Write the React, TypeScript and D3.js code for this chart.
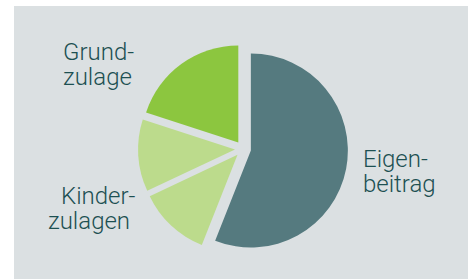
import { useEffect, useRef } from "react";
import * as d3 from "d3";

// slices, clockwise from 12 o'clock
const slices = ["Eigenbeitrag", "Kinderzulage 1", "Kinderzulage 2", "Grundzulage"];
const shares = [56, 12, 12, 20];
const sliceColors = ["#557a7f", "#bcdb8c", "#bcdb8c", "#8cc63f"];

// labels (lines)
const labelLines = [
  ["Grund-", "zulage"],
  ["Kinder-", "zulagen"],
  ["Eigen-", "beitrag"],
];

const App = () => {
  const svgRef = useRef<SVGSVGElement>(null);

  useEffect(() => {
    const width = 475;
    const height = 279;
    const cx = 243;
    const cy = 149;
    const radius = 97;
    const explode = 8;

    const svg = d3.select(svgRef.current);
    svg.selectAll("*").remove();
    svg.attr("width", width).attr("height", height);

    // background panel
    svg
      .append("rect")
      .attr("x", 14)
      .attr("y", 6)
      .attr("width", 454)
      .attr("height", height - 6)
      .attr("fill", "#dbe0e2");

    const data = slices.map((name, i) => ({ name, value: shares[i], color: sliceColors[i] }));

    const pie = d3
      .pie<any>()
      .sort(null)
      .value((d) => d.value);

    const arc = d3.arc<any>().innerRadius(0).outerRadius(radius);

    const g = svg.append("g").attr("transform", `translate(${cx},${cy})`);

    g.selectAll("path")
      .data(pie(data))
      .enter()
      .append("path")
      .attr("d", arc)
      .attr("fill", (d) => d.data.color)
      .attr("transform", (d) => {
        const mid = (d.startAngle + d.endAngle) / 2;
        return `translate(${Math.sin(mid) * explode},${-Math.cos(mid) * explode})`;
      });

    // labels
    const labelPos = [
      { x: 63, y: 60, anchor: "start" },
      { x: 61, y: 204, anchor: "start" },
      { x: 363, y: 167, anchor: "start" },
    ];

    labelLines.forEach((lines, i) => {
      const p = labelPos[i];
      const t = svg
        .append("text")
        .attr("x", p.x)
        .attr("y", p.y)
        .attr("text-anchor", p.anchor)
        .attr("fill", "#1d5052")
        .style("font-family", "Roboto, 'Open Sans', sans-serif")
        .style("font-weight", 300)
        .style("font-size", "24px");
      lines.forEach((line, j) => {
        t.append("tspan")
          .attr("x", i === 1 && j === 1 ? 48 : p.x)
          .attr("dy", j === 0 ? 0 : 24.5)
          .text(line);
      });
    });
  }, []);

  return (
    <svg
      ref={svgRef}
      style={{ position: "absolute", left: 0, top: 0, background: "#ffffff" }}
    ></svg>
  );
};

export default App;
